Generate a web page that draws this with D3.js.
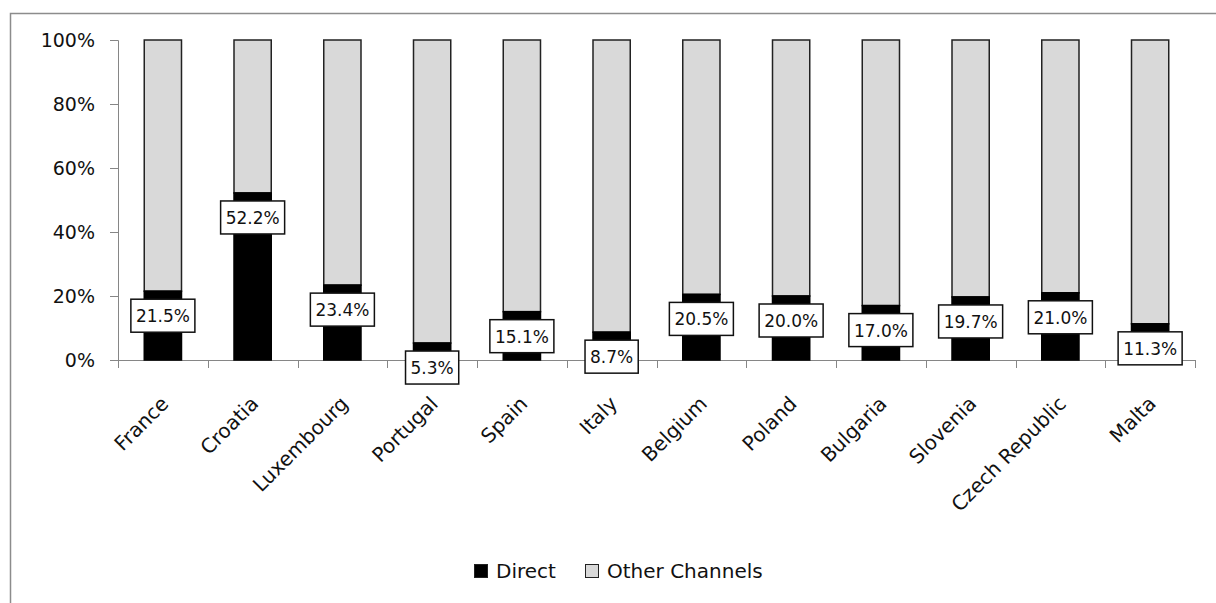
<!DOCTYPE html>
<html>
<head>
<meta charset="utf-8">
<script src="https://cdn.jsdelivr.net/npm/d3@7"></script>
<style>
  body { margin: 0; background: #fff; }
  svg text { font-family: "DejaVu Sans", sans-serif; }
</style>
</head>
<body>
<div id="chart"></div>
<script>
// data
const countries = ["France", "Croatia", "Luxembourg", "Portugal", "Spain", "Italy",
  "Belgium", "Poland", "Bulgaria", "Slovenia", "Czech Republic", "Malta"];
const direct = [21.5, 52.2, 23.4, 5.3, 15.1, 8.7, 20.5, 20.0, 17.0, 19.7, 21.0, 11.3];
const yTicks = [0, 20, 40, 60, 80, 100];
const seriesNames = ["Direct", "Other Channels"];

const width = 1216, height = 603;
const margin = {top: 40, right: 21, bottom: 243, left: 118};
const plotW = width - margin.left - margin.right,
      plotH = height - margin.top - margin.bottom;

const svg = d3.select("#chart")
  .append("svg")
  .attr("width", width)
  .attr("height", height);

// chart area border
svg.append("rect")
  .attr("x", 10.5).attr("y", 13.5)
  .attr("width", 1400).attr("height", 800)
  .attr("fill", "none")
  .attr("stroke", "#8c8c8c")
  .attr("stroke-width", 1.5);

const g = svg.append("g")
  .attr("transform", `translate(${margin.left}, ${margin.top})`);

const data = countries.map((c, i) => ({country: c, direct: direct[i], other: 100 - direct[i]}));

const x = d3.scaleBand()
  .domain(countries)
  .range([0, plotW])
  .paddingInner(0.585)
  .paddingOuter(0.2925);

const y = d3.scaleLinear()
  .domain([0, 100])
  .range([plotH, 0]);

// y axis
const yAxis = g.append("g")
  .call(d3.axisLeft(y).tickValues(yTicks).tickFormat(d => d + "%").tickSize(8).tickPadding(15))
  .attr("font-size", 19);
yAxis.select(".domain").attr("stroke", "#868686");
yAxis.selectAll(".tick line").attr("stroke", "#868686");
yAxis.selectAll(".tick text").attr("fill", "#111").attr("font-family", "DejaVu Sans");

// x axis with ticks at band boundaries
const step = plotW / countries.length;
g.append("line")
  .attr("x1", 0).attr("x2", plotW)
  .attr("y1", plotH + 0.5).attr("y2", plotH + 0.5)
  .attr("stroke", "#868686");
g.selectAll(".xtick")
  .data(d3.range(countries.length + 1))
  .join("line")
  .attr("x1", d => Math.round(d * step) + 0.5)
  .attr("x2", d => Math.round(d * step) + 0.5)
  .attr("y1", plotH).attr("y2", plotH + 8)
  .attr("stroke", "#868686");

g.selectAll(".xlabel")
  .data(countries)
  .join("text")
  .attr("transform", d => `translate(${x(d) + x.bandwidth() / 2 + 2}, ${plotH + 40}) rotate(-45)`)
  .attr("text-anchor", "end")
  .attr("dy", "0.35em")
  .attr("font-size", 20)
  .attr("fill", "#111")
  .text(d => d);

// other channels (upper segment)
g.selectAll(".other")
  .data(data)
  .join("rect")
  .attr("x", d => x(d.country))
  .attr("y", d => y(100))
  .attr("width", x.bandwidth())
  .attr("height", d => y(d.direct) - y(100))
  .attr("fill", "#d9d9d9")
  .attr("stroke", "#222")
  .attr("stroke-width", 1.5);

// direct (lower segment)
g.selectAll(".direct")
  .data(data)
  .join("rect")
  .attr("x", d => x(d.country))
  .attr("y", d => y(d.direct))
  .attr("width", x.bandwidth())
  .attr("height", d => y(0) - y(d.direct))
  .attr("fill", "#000")
  .attr("stroke", "#000")
  .attr("stroke-width", 1.5);

// data labels in white boxes
const labels = g.selectAll(".lbl")
  .data(data)
  .join("g")
  .attr("transform", d => `translate(${x(d.country) + x.bandwidth() / 2}, ${y(d.direct) + 8})`);

labels.append("text")
  .attr("text-anchor", "middle")
  .attr("y", 17)
  .attr("dy", "0.35em")
  .attr("font-size", 17)
  .attr("fill", "#111")
  .text(d => d.direct.toFixed(1) + "%");

labels.each(function() {
  const t = d3.select(this).select("text");
  const b = t.node().getBBox();
  d3.select(this).insert("rect", "text")
    .attr("x", b.x - 5)
    .attr("y", 0)
    .attr("width", b.width + 10)
    .attr("height", 33)
    .attr("fill", "#fff")
    .attr("stroke", "#111")
    .attr("stroke-width", 1.5);
});

// legend
const legendColors = ["#000", "#d9d9d9"];
const legendX = [474, 585];
const legend = svg.selectAll(".legend")
  .data(seriesNames)
  .join("g")
  .attr("transform", (d, i) => `translate(${legendX[i]}, 571)`);
legend.append("rect")
  .attr("x", 0.5).attr("y", -6.5)
  .attr("width", 13).attr("height", 13)
  .attr("fill", (d, i) => legendColors[i])
  .attr("stroke", "#222");
legend.append("text")
  .attr("x", 22)
  .attr("dy", "0.35em")
  .attr("font-size", 20)
  .attr("fill", "#111")
  .text(d => d);
</script>
</body>
</html>
